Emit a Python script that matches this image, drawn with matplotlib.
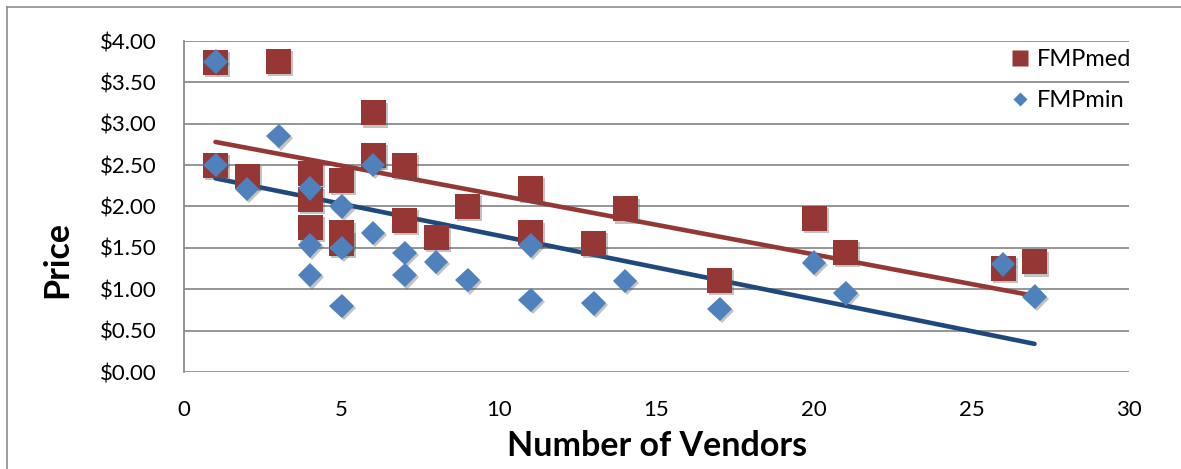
import matplotlib.pyplot as plt
import matplotlib.patheffects as pe
from matplotlib.ticker import FuncFormatter, MultipleLocator
from matplotlib.lines import Line2D
import numpy as np

# 供应商数量与价格
vendors = [1, 1, 2, 3, 4, 4, 4, 5, 5, 5, 6, 6, 7, 7, 8, 9,
           11, 11, 13, 14, 17, 20, 21, 26, 27]
fmp_med = [3.74, 2.50, 2.36, 3.75, 2.40, 2.08, 1.75, 2.32, 1.68, 1.55, 3.13, 2.62,
           2.50, 1.83, 1.63, 2.00, 2.22, 1.68, 1.55, 1.97, 1.11, 1.85, 1.44, 1.25, 1.33]
fmp_min = [3.75, 2.50, 2.21, 2.85, 2.22, 1.53, 1.17, 2.00, 1.50, 0.80, 2.50, 1.68,
           1.44, 1.17, 1.33, 1.11, 1.53, 0.87, 0.83, 1.10, 0.76, 1.32, 0.95, 1.30, 0.91]
x_ticks = [0, 5, 10, 15, 20, 25, 30]

# 趋势线两端的值（x = 1 和 x = 27）
trend_x = [1, 27]
med_trend = [2.78, 0.92]
min_trend = [2.34, 0.34]

# 颜色
med_color = '#953735'
min_color = '#4F81BD'
med_trend_color = '#953735'
min_trend_color = '#1F497D'
grid_color = '#8C8C8C'

plt.rcParams['font.family'] = ['Lato', 'DejaVu Sans']

fig = plt.figure(figsize=(11.81, 4.69), dpi=100)
ax = fig.add_axes([184 / 1181, 1 - 372 / 469, (1129 - 184) / 1181, (372 - 41) / 469])

shadow = [pe.SimplePatchShadow(offset=(1.5, -1.5), shadow_rgbFace='#555555', alpha=0.35),
          pe.Normal()]

# 趋势线
ax.plot(trend_x, med_trend, color=med_trend_color, lw=3.3, solid_capstyle='round', zorder=2)
ax.plot(trend_x, min_trend, color=min_trend_color, lw=3.3, solid_capstyle='round', zorder=2)

ax.plot(vendors, fmp_med, 's', ms=18, color=med_color, mec='none',
        path_effects=shadow, zorder=3)
ax.plot(vendors, fmp_min, 'D', ms=12.5, color=min_color, mec='none',
        path_effects=shadow, zorder=4)

ax.set_xlim(0, 30)
ax.set_ylim(0, 4)
ax.set_xticks(x_ticks)
ax.yaxis.set_major_locator(MultipleLocator(0.5))
ax.yaxis.set_major_formatter(FuncFormatter(lambda v, p: '${:.2f}'.format(v)))
ax.tick_params(axis='both', length=0, labelsize=16, colors='#000000')
ax.tick_params(axis='y', pad=20)
ax.tick_params(axis='x', pad=20)
ax.grid(axis='y', color=grid_color, lw=1.3, zorder=0)
ax.set_axisbelow(True)
for s in ['top', 'right', 'bottom']:
    ax.spines[s].set_visible(False)
ax.spines['left'].set_color(grid_color)
ax.spines['left'].set_linewidth(1.3)

fig.text(657 / 1181, 1 - 446 / 469, 'Number of Vendors', fontsize=24.5, fontweight='bold',
         ha='center', va='center')
fig.text(57 / 1181, 1 - 260 / 469, 'Price', fontsize=24.5, fontweight='bold',
         ha='center', va='center', rotation=90)

# 图例
handles = [Line2D([], [], marker='s', ls='none', ms=11, color=med_color, mec='none'),
           Line2D([], [], marker='D', ls='none', ms=7.5, color=min_color, mec='none')]
ax.legend(handles, ['FMPmed', 'FMPmin'], loc='upper right', bbox_to_anchor=(1.012, 1.005),
          frameon=False, fontsize=17, handletextpad=0.2, labelspacing=0.85,
          handlelength=1.0, borderaxespad=0.0)

# 外边框
fig.add_artist(Line2D([7 / 1181, 7 / 1181], [0, 1 - 7 / 469], color='#8C8C8C', lw=1.2))
fig.add_artist(Line2D([7 / 1181, 1], [1 - 7 / 469, 1 - 7 / 469], color='#8C8C8C', lw=1.2))

fig.savefig('out.png', dpi=100)
